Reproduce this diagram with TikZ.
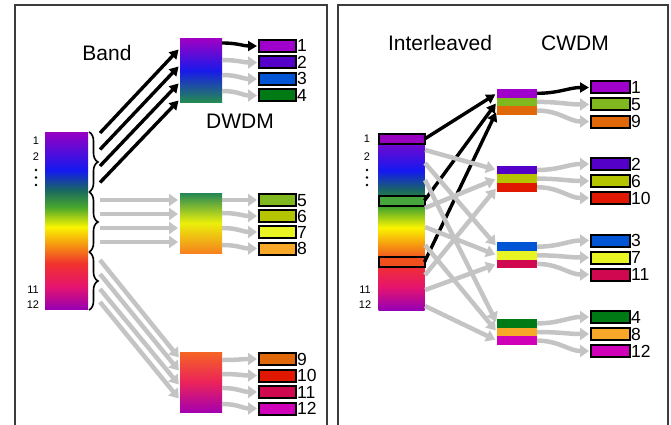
\documentclass[tikz,border=0pt]{standalone}
\usepackage{fontspec}
\setmainfont{Liberation Sans}
\usetikzlibrary{arrows.meta,decorations.pathreplacing}

\definecolor{ch1}{RGB}{160,0,204}
\definecolor{ch2}{RGB}{85,0,200}
\definecolor{ch3}{RGB}{0,85,213}
\definecolor{ch4}{RGB}{0,122,21}
\definecolor{ch5}{RGB}{128,184,32}
\definecolor{ch6}{RGB}{180,196,0}
\definecolor{ch7}{RGB}{232,245,34}
\definecolor{ch8}{RGB}{248,168,40}
\definecolor{ch9}{RGB}{224,104,8}
\definecolor{ch10}{RGB}{224,24,0}
\definecolor{ch11}{RGB}{208,8,79}
\definecolor{ch12}{RGB}{208,0,184}
\definecolor{spTop}{RGB}{150,0,195}
\definecolor{spBlue}{RGB}{20,25,240}
\definecolor{spTeal}{RGB}{25,105,95}
\definecolor{spGreen}{RGB}{70,165,45}
\definecolor{spYellow}{RGB}{250,245,0}
\definecolor{spOrange}{RGB}{245,135,20}
\definecolor{spRed}{RGB}{240,50,45}
\definecolor{spPink}{RGB}{230,20,110}
\definecolor{spBot}{RGB}{150,0,180}
\definecolor{greyarr}{RGB}{196,196,196}
\definecolor{frame}{RGB}{60,60,60}

\pgfdeclareverticalshading{spectrum}{100bp}{color(0bp)=(spBot); color(25bp)=(spBot); color(31.5bp)=(spPink); color(38bp)=(spRed); color(42.5bp)=(spOrange); color(48.3bp)=(spYellow); color(54bp)=(spGreen); color(58.7bp)=(spTeal); color(64.3bp)=(spBlue); color(75bp)=(spTop); color(100bp)=(spTop)}

\tikzset{
    panel/.style={draw=frame, line width=2pt},
    bar/.style={shade, shading=spectrum, inner sep=0pt, outer sep=0pt, minimum height=177pt},
    blk/.style={inner sep=0pt, outer sep=0pt, minimum width=42pt},
    chan/.style={draw=black, line width=2pt, inner sep=0pt, outer sep=0pt, minimum width=37pt, minimum height=12pt},
    stripe/.style={inner sep=0pt, outer sep=0pt, minimum width=40pt, minimum height=8.6pt},
    num/.style={anchor=west, inner sep=1pt, text height=12pt, text depth=0pt, font=\fontsize{17.5}{17.5}\selectfont},
    small/.style={inner sep=0pt, font=\fontsize{11}{11}\selectfont},
    title/.style={font=\fontsize{21}{21}\selectfont},
    blackarrow/.style={line width=3.4pt, -{Triangle[length=9pt,width=10pt]}, shorten >=2pt},
    greyarrow/.style={draw=greyarr, line width=4.5pt, -{Triangle[length=9pt,width=12pt]}, shorten >=2pt},
    brc/.style={decorate, decoration={brace, amplitude=9pt}, line width=1.6pt},
}

\begin{document}
\begin{tikzpicture}[x=1pt, y=-1pt]
    \useasboundingbox (0,0) rectangle (671,425);
    % Draw panels
    \draw[panel] (15,427) -- (15,5) -- (327,5) -- (327,427);
    \draw[panel] (338,427) -- (338,5) -- (668,5) -- (668,427);

    % Titles
    \node[title] (tBand) at (107,53) {Band};
    \node[title] (tDWDM) at (240,121) {DWDM};
    \node[title] (tInter) at (440,43) {Interleaved};
    \node[title] (tCWDM) at (575,43) {CWDM};

    % Left spectrum with braces
    \node[bar, minimum width=43pt] (specL) at (66.5,221) {};
    \foreach \a/\b in {132/192, 192/252, 252/310}
        \draw[brc] (89,\a) -- (89,\b);
    \node[small] (l1) at (36,141) {1};
    \node[small] (l2) at (36,157) {2};
    \node[small] (l11) at (33,290) {11};
    \node[small] (l12) at (33,305) {12};
    \foreach \y in {170,177.5,185}
        \fill (36,\y) circle (1.3pt);

    % DWDM band filters
    \node[blk, minimum height=64pt, top color={rgb,255:red,160;green,0;blue,195}, bottom color={rgb,255:red,35;green,140;blue,80}, middle color={rgb,255:red,25;green,25;blue,235}] (band1) at (201,70.5) {};
    \node[blk, minimum height=60pt, top color={rgb,255:red,35;green,135;blue,85}, bottom color={rgb,255:red,245;green,130;blue,30}, middle color={rgb,255:red,235;green,240;blue,10}] (band2) at (201,223) {};
    \node[blk, minimum height=60pt, top color={rgb,255:red,245;green,100;blue,35}, bottom color={rgb,255:red,165;green,0;blue,175}, middle color={rgb,255:red,235;green,35;blue,90}] (band3) at (201,382) {};

    % Output channels (DWDM)
    \foreach \n/\y in {1/46, 2/62.5, 3/79, 4/95.5, 5/200, 6/216, 7/232, 8/248.5, 9/359, 10/375.5, 11/392, 12/408.5} {
        \node[chan, fill=ch\n] (o\n) at (277.5,\y) {};
        \node[num] (lo\n) at (o\n.east) {\n};
    }

    % Bands into the filters
    \foreach \i in {0,...,3} {
        \pgfmathsetmacro{\ya}{133+16.5*\i}
        \pgfmathsetmacro{\yb}{48+17*\i}
        \coordinate (ba\i) at (100,\ya);
        \draw[blackarrow] (ba\i) -- (band1.west |- 0,\yb);
    }
    \foreach \i/\y in {0/200, 1/214, 2/228, 3/242} {
        \coordinate (bb\i) at (100,\y);
        \draw[greyarrow] (bb\i) -- (band2.west |- 0,\y);
    }
    \foreach \i/\ya/\yb in {0/260/359, 1/274/372, 2/289/386, 3/302/400} {
        \coordinate (bc\i) at (100,\ya);
        \draw[greyarrow] (bc\i) -- (band3.west |- 0,\yb);
    }

    % Filters to channels
    \coordinate (f1) at (222,43);
    \draw[blackarrow] (f1) .. controls +(16,0) and +(-16,0) .. (o1.west);
    \foreach \n/\y in {2/60, 3/75, 4/91, 5/200, 6/213, 7/228, 8/245, 9/360, 10/374, 11/388, 12/404} {
        \coordinate (f\n) at (222,\y);
        \draw[greyarrow] (f\n) .. controls +(16,0) and +(-16,0) .. (o\n.west);
    }

    % Right spectrum with picked channels
    \node[bar, minimum width=46pt] (specR) at (401.5,221.5) {};
    \node[chan, minimum width=46pt, minimum height=10pt, fill={rgb,255:red,150;green,0;blue,190}] (h1) at (401.5,139) {};
    \node[chan, minimum width=46pt, minimum height=10pt, fill={rgb,255:red,70;green,165;blue,60}] (h5) at (401.5,200.5) {};
    \node[chan, minimum width=46pt, minimum height=10pt, fill={rgb,255:red,240;green,80;blue,30}] (h9) at (401.5,262) {};
    \node[small] (r1) at (367,139) {1};
    \node[small] (r2) at (367,157) {2};
    \node[small] (r11) at (365,290) {11};
    \node[small] (r12) at (365,305) {12};
    \foreach \y in {170,177.5,185}
        \fill (367,\y) circle (1.3pt);

    % CWDM filters and output channels
    \foreach \n in {1,...,12} {
        \pgfmathtruncatemacro{\g}{mod(\n-1,4)}
        \pgfmathtruncatemacro{\r}{(\n-1)/4}
        \pgfmathsetmacro{\ym}{93.3+76.7*\g+8.6*\r}
        \pgfmathsetmacro{\yq}{87.5+76.5*\g+17*\r}
        \node[stripe, fill=ch\n] (m\n) at (517,\ym) {};
        \node[chan, fill=ch\n, minimum width=39pt] (q\n) at (610.5,\yq) {};
        \node[num] (lq\n) at (q\n.east) {\n};
    }

    % Spectrum into the filters
    \foreach \n/\h in {1/h1, 5/h5, 9/h9}
        \draw[blackarrow] (\h.east) -- (m\n.west);
    \foreach \n/\y in {2/150, 3/163, 4/180, 6/208, 7/227, 8/245, 10/275, 11/290, 12/306} {
        \coordinate (c\n) at (425,\y);
        \draw[greyarrow] (c\n) -- (m\n.west);
    }

    % Filters to channels
    \draw[blackarrow] (m1.east) .. controls +(22,0) and +(-22,0) .. (q1.west);
    \foreach \n in {2,...,12}
        \draw[greyarrow] (m\n.east) .. controls +(22,0) and +(-22,0) .. (q\n.west);
\end{tikzpicture}
\end{document}
